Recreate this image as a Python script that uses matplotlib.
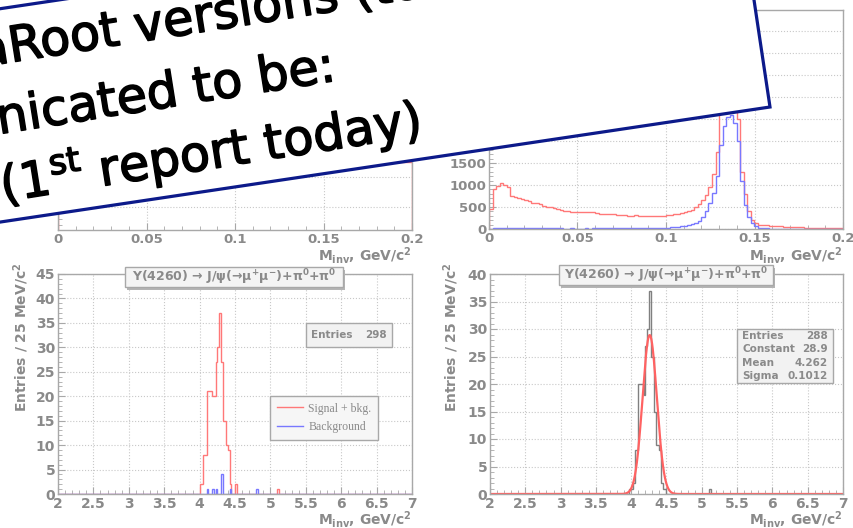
import numpy as np
import matplotlib
matplotlib.use('Agg')
import matplotlib.pyplot as plt
import matplotlib.patheffects as pe
from matplotlib.lines import Line2D
from matplotlib.patches import Polygon, Rectangle
from matplotlib.ticker import MultipleLocator, FormatStrFormatter
from matplotlib.transforms import Bbox, TransformedBbox

W, H = 854, 528

plt.rcParams['font.family'] = ['DejaVu Sans']
plt.rcParams['font.weight'] = 'bold'
plt.rcParams['mathtext.default'] = 'regular'

RED = '#ff7878'
BLUE = '#7878ff'
GREY_TXT = '#8a8a8a'
GREY_AX = '#a8a8a8'
GRID = '#c8c8c8'
NAVY = '#0c1a8a'

# pi0 -> gamma gamma candidates, 2 MeV bins over 0-0.2 GeV
pi0_edges = np.linspace(0.0, 0.2, 101)
pi0_all = [450, 900, 980, 1050, 1000, 950, 760, 730, 700, 680,
           650, 630, 600, 580, 560, 530, 510, 490, 470, 450,
           430, 410, 400, 390, 385, 375, 380, 390, 375, 385,
           370, 350, 345, 340, 335, 330, 320, 315, 320, 305,
           300, 310, 295, 300, 290, 300, 305, 300, 295, 300,
           310, 320, 330, 340, 360, 380, 400, 440, 500, 560,
           650, 780, 960, 1250, 1750, 2900, 3900, 4600, 4740, 3900,
           2500, 1300, 800, 400, 200, 130, 100, 90, 80, 75,
           70, 65, 60, 55, 50, 45, 42, 40, 36, 34,
           30, 28, 26, 25, 24, 22, 20, 20, 18, 16]
pi0_true = [10, 25, 30, 30, 28, 25, 22, 20, 20, 18,
            18, 16, 15, 15, 14, 14, 13, 12, 12, 12,
            12, 11, 11, 12, 11, 10, 11, 12, 11, 12,
            12, 13, 12, 13, 14, 14, 15, 16, 16, 17,
            18, 19, 20, 21, 22, 24, 25, 27, 28, 30,
            32, 35, 40, 48, 58, 70, 88, 110, 140, 190,
            280, 420, 580, 820, 1200, 1900, 2350, 2550, 2600, 2400,
            2000, 1100, 550, 280, 130, 60, 30, 18, 12, 10,
            8, 7, 6, 6, 5, 5, 4, 4, 4, 3,
            3, 3, 3, 2, 2, 2, 2, 2, 1, 1]

# previous release, 10 MeV bins
pi0_prev_edges = np.linspace(0.0, 0.2, 21)
pi0_prev = [9000, 6500, 5200, 4700, 4400, 4200, 4100, 4000, 4100, 4300,
            4900, 6800, 9000, 9500, 6000, 3500, 2600, 2100, 1800, 1500]

# Y(4260) candidates, 25 MeV bins over 2-7 GeV (filled bins only, lower edges)
y_edges = np.linspace(2.0, 7.0, 201)
sig_bins = [4.000, 4.025, 4.050, 4.075, 4.100, 4.125, 4.150, 4.175, 4.200, 4.225,
            4.250, 4.275, 4.300, 4.325, 4.350, 4.375, 4.400, 4.425, 4.500, 5.100]
sig_counts = [2, 2, 8, 8, 21, 21, 21, 20, 20, 27,
              30, 37, 27, 15, 15, 10, 9, 2, 2, 1]
bkg_bins = [4.100, 4.175, 4.225, 4.300, 4.425, 4.800]
bkg_counts = [1, 1, 1, 4, 1, 1]
sel_bins = [3.975, 4.000, 4.025, 4.050, 4.075, 4.100, 4.125, 4.150, 4.175, 4.200,
            4.225, 4.250, 4.275, 4.300, 4.325, 4.350, 4.375, 4.400, 4.425, 4.450,
            4.475, 5.100]
sel_counts = [1, 1, 2, 8, 8, 20, 20, 20, 18, 27,
              30, 37, 25, 25, 15, 9, 9, 8, 2, 1,
              1, 1]

# gaussian fit to the selected sample
fit_const = 28.9
fit_mean = 4.262
fit_sigma = 0.1012


def fill(bins, counts):
    h = np.zeros(len(y_edges) - 1)
    idx = np.round((np.array(bins) - y_edges[0]) / 0.025).astype(int)
    h[idx] = counts
    return h


def px_axes(x0, y0, x1, y1):
    # axes from pixel corners (y measured from the top)
    return fig.add_axes([x0 / W, 1 - y1 / H, (x1 - x0) / W, (y1 - y0) / H])


def root_frame(ax, xmaj, xmin, ymaj, ymin, size=10):
    for sp in ax.spines.values():
        sp.set_color(GREY_AX)
        sp.set_linewidth(1.0)
    ax.xaxis.set_major_locator(MultipleLocator(xmaj))
    ax.xaxis.set_minor_locator(MultipleLocator(xmin))
    ax.yaxis.set_major_locator(MultipleLocator(ymaj))
    ax.yaxis.set_minor_locator(MultipleLocator(ymin))
    ax.xaxis.set_major_formatter(FormatStrFormatter('%g'))
    ax.yaxis.set_major_formatter(FormatStrFormatter('%g'))
    ax.tick_params(which='both', direction='in', color=GREY_AX,
                   labelcolor=GREY_TXT, labelsize=size, pad=2)
    ax.tick_params(which='major', length=5)
    ax.tick_params(which='minor', length=2.8)
    ax.grid(True, which='major', ls=':', lw=0.8, color=GRID)
    ax.set_axisbelow(True)


def title_box(ax, x0, y0, x1, y1, text):
    ax.add_patch(Rectangle((x0 + 0.005, y0 - 0.012), x1 - x0, y1 - y0,
                           transform=ax.transAxes, clip_on=False,
                           fc='#b4b4b4', ec='none', zorder=5))
    ax.add_patch(Rectangle((x0, y0), x1 - x0, y1 - y0, transform=ax.transAxes,
                           clip_on=False, fc='#f4f4f4', ec=GREY_AX, lw=1, zorder=6))
    ax.text((x0 + x1) / 2, (y0 + y1) / 2, text, transform=ax.transAxes,
            ha='center', va='center', fontsize=9, color=GREY_TXT, zorder=7)


def stats_box(ax, x0, y0, x1, y1, rows):
    ax.add_patch(Rectangle((x0, y0), x1 - x0, y1 - y0, transform=ax.transAxes,
                           clip_on=False, fc='#f2f2f2', ec=GREY_AX, lw=1, zorder=6))
    step = (y1 - y0) / len(rows)
    for i, (name, val) in enumerate(rows):
        yc = y1 - step * (i + 0.5)
        ax.text(x0 + 0.015, yc, name, transform=ax.transAxes, ha='left',
                va='center', fontsize=7.5, color=GREY_TXT, zorder=7)
        ax.text(x1 - 0.015, yc, val, transform=ax.transAxes, ha='right',
                va='center', fontsize=7.5, color=GREY_TXT, zorder=7)


fig = plt.figure(figsize=(W / 100, H / 100), dpi=100)

xlabel = r'M$_{inv}$, GeV/c$^{2}$'
ylabel = r'Entries / 25 MeV/c$^{2}$'
title = r'Y(4260) → J/ψ(→μ$^{+}$μ$^{-}$)+π$^{0}$+π$^{0}$'

# top left: previous release
ax_tl = px_axes(58, 10, 412, 230)
root_frame(ax_tl, 0.05, 0.01, 1000, 200, size=9.5)
ax_tl.stairs(pi0_prev, pi0_prev_edges, color=RED, lw=1, baseline=-767)
ax_tl.set_xlim(0, 0.2)
ax_tl.set_ylim(-767, 6567)

# top right: current release
ax_tr = px_axes(489, 10, 843, 229)
root_frame(ax_tr, 0.05, 0.01, 500, 100, size=9.5)
ax_tr.stairs(pi0_all, pi0_edges, color=RED, lw=1)
ax_tr.stairs(pi0_true, pi0_edges, color=BLUE, lw=1)
ax_tr.set_xlim(0, 0.2)
ax_tr.set_ylim(0, 1.05 * max(pi0_all))

clip = TransformedBbox(Bbox.from_extents(0, (H - 263) / H, 1, 1), fig.transFigure)
for xr in (412, 843):
    t = fig.text(xr / W, 1 - 261 / H, xlabel, ha='right', va='baseline',
                 fontsize=10, color=GREY_TXT)
    t.set_clip_box(clip)
    t.set_clip_on(True)

# bottom left: signal + background
ax_bl = px_axes(58, 274, 412, 494)
root_frame(ax_bl, 0.5, 0.1, 5, 1)
sig = fill(sig_bins, sig_counts)
bkg = fill(bkg_bins, bkg_counts)
ax_bl.stairs(sig, y_edges, color=RED, lw=1)
ax_bl.stairs(bkg, y_edges, color=BLUE, lw=1)
ax_bl.set_xlim(2, 7)
ax_bl.set_ylim(0, 45)
title_box(ax_bl, 0.189, 0.941, 0.805, 1.032, title)
stats_box(ax_bl, 0.700, 0.668, 0.944, 0.777, [('Entries', f'{int(sig.sum())}')])
ax_bl.legend([Line2D([], [], color=RED, lw=1), Line2D([], [], color=BLUE, lw=1)],
             ['Signal + bkg.', 'Background'], loc='upper left',
             bbox_to_anchor=(0.599, 0.445), borderaxespad=0,
             prop={'family': 'Liberation Serif', 'size': 8.5, 'weight': 'normal'},
             labelcolor=GREY_TXT, fancybox=False, edgecolor=GREY_AX,
             facecolor='#f6f6f6', framealpha=1, handlelength=2.2,
             handletextpad=0.5, borderpad=0.55, labelspacing=0.55)

# bottom right: selected sample with gaussian fit
ax_br = px_axes(490, 274, 843, 494)
root_frame(ax_br, 0.5, 0.1, 5, 1)
sel = fill(sel_bins, sel_counts)
ax_br.stairs(sel, y_edges, color='#808080', lw=1)
m = np.linspace(2, 7, 1001)
ax_br.plot(m, fit_const * np.exp(-0.5 * ((m - fit_mean) / fit_sigma) ** 2),
           color='#ff6262', lw=1.6)
ax_br.set_xlim(2, 7)
ax_br.set_ylim(0, 40)
title_box(ax_br, 0.195, 0.95, 0.802, 1.041, title)
stats_box(ax_br, 0.700, 0.505, 0.972, 0.75,
          [('Entries', f'{int(sel.sum())}'), ('Constant', f'{fit_const:.1f}'),
           ('Mean', f'{fit_mean:.3f}'), ('Sigma', f'{fit_sigma:.4f}')])

for xl, xr in ((21, 412), (451, 843)):
    fig.text(xl / W, 1 - 263 / H, ylabel, rotation=90, ha='center', va='top',
             fontsize=10, color=GREY_TXT)
    fig.text(xr / W, 1 - 525 / H, xlabel, ha='right', va='baseline',
             fontsize=10, color=GREY_TXT)

# slide call-out laid over the top row
ov = fig.add_axes([0, 0, 1, 1], zorder=10)
ov.set_xlim(0, W)
ov.set_ylim(H, 0)
ov.axis('off')
a = np.deg2rad(8.5)
along = np.array([np.cos(a), -np.sin(a)])
up = np.array([-np.sin(a), -np.cos(a)])
corner = np.array([770.0, 107.0])
box_h, box_w = 211, 1000
pts = [corner, corner + box_h * up, corner + box_h * up - box_w * along,
       corner - box_w * along]
ov.add_patch(Polygon(pts, closed=True, fc='white', ec=NAVY, lw=2.3))

slide_lines = ['aRoot versions (to be', 'nicated to be:', '(1$^{st}$ report today)']
thick = [pe.withStroke(linewidth=1.1, foreground='black')]
for (x, y), s in zip([(-19, 67), (-1, 134), (3, 202)], slide_lines):
    ov.text(x, y, s, rotation=9, rotation_mode='anchor', ha='left',
            va='baseline', fontsize=35.5, family='DejaVu Sans',
            weight='normal', color='black', path_effects=thick)

fig.savefig('out.png', dpi=100)
